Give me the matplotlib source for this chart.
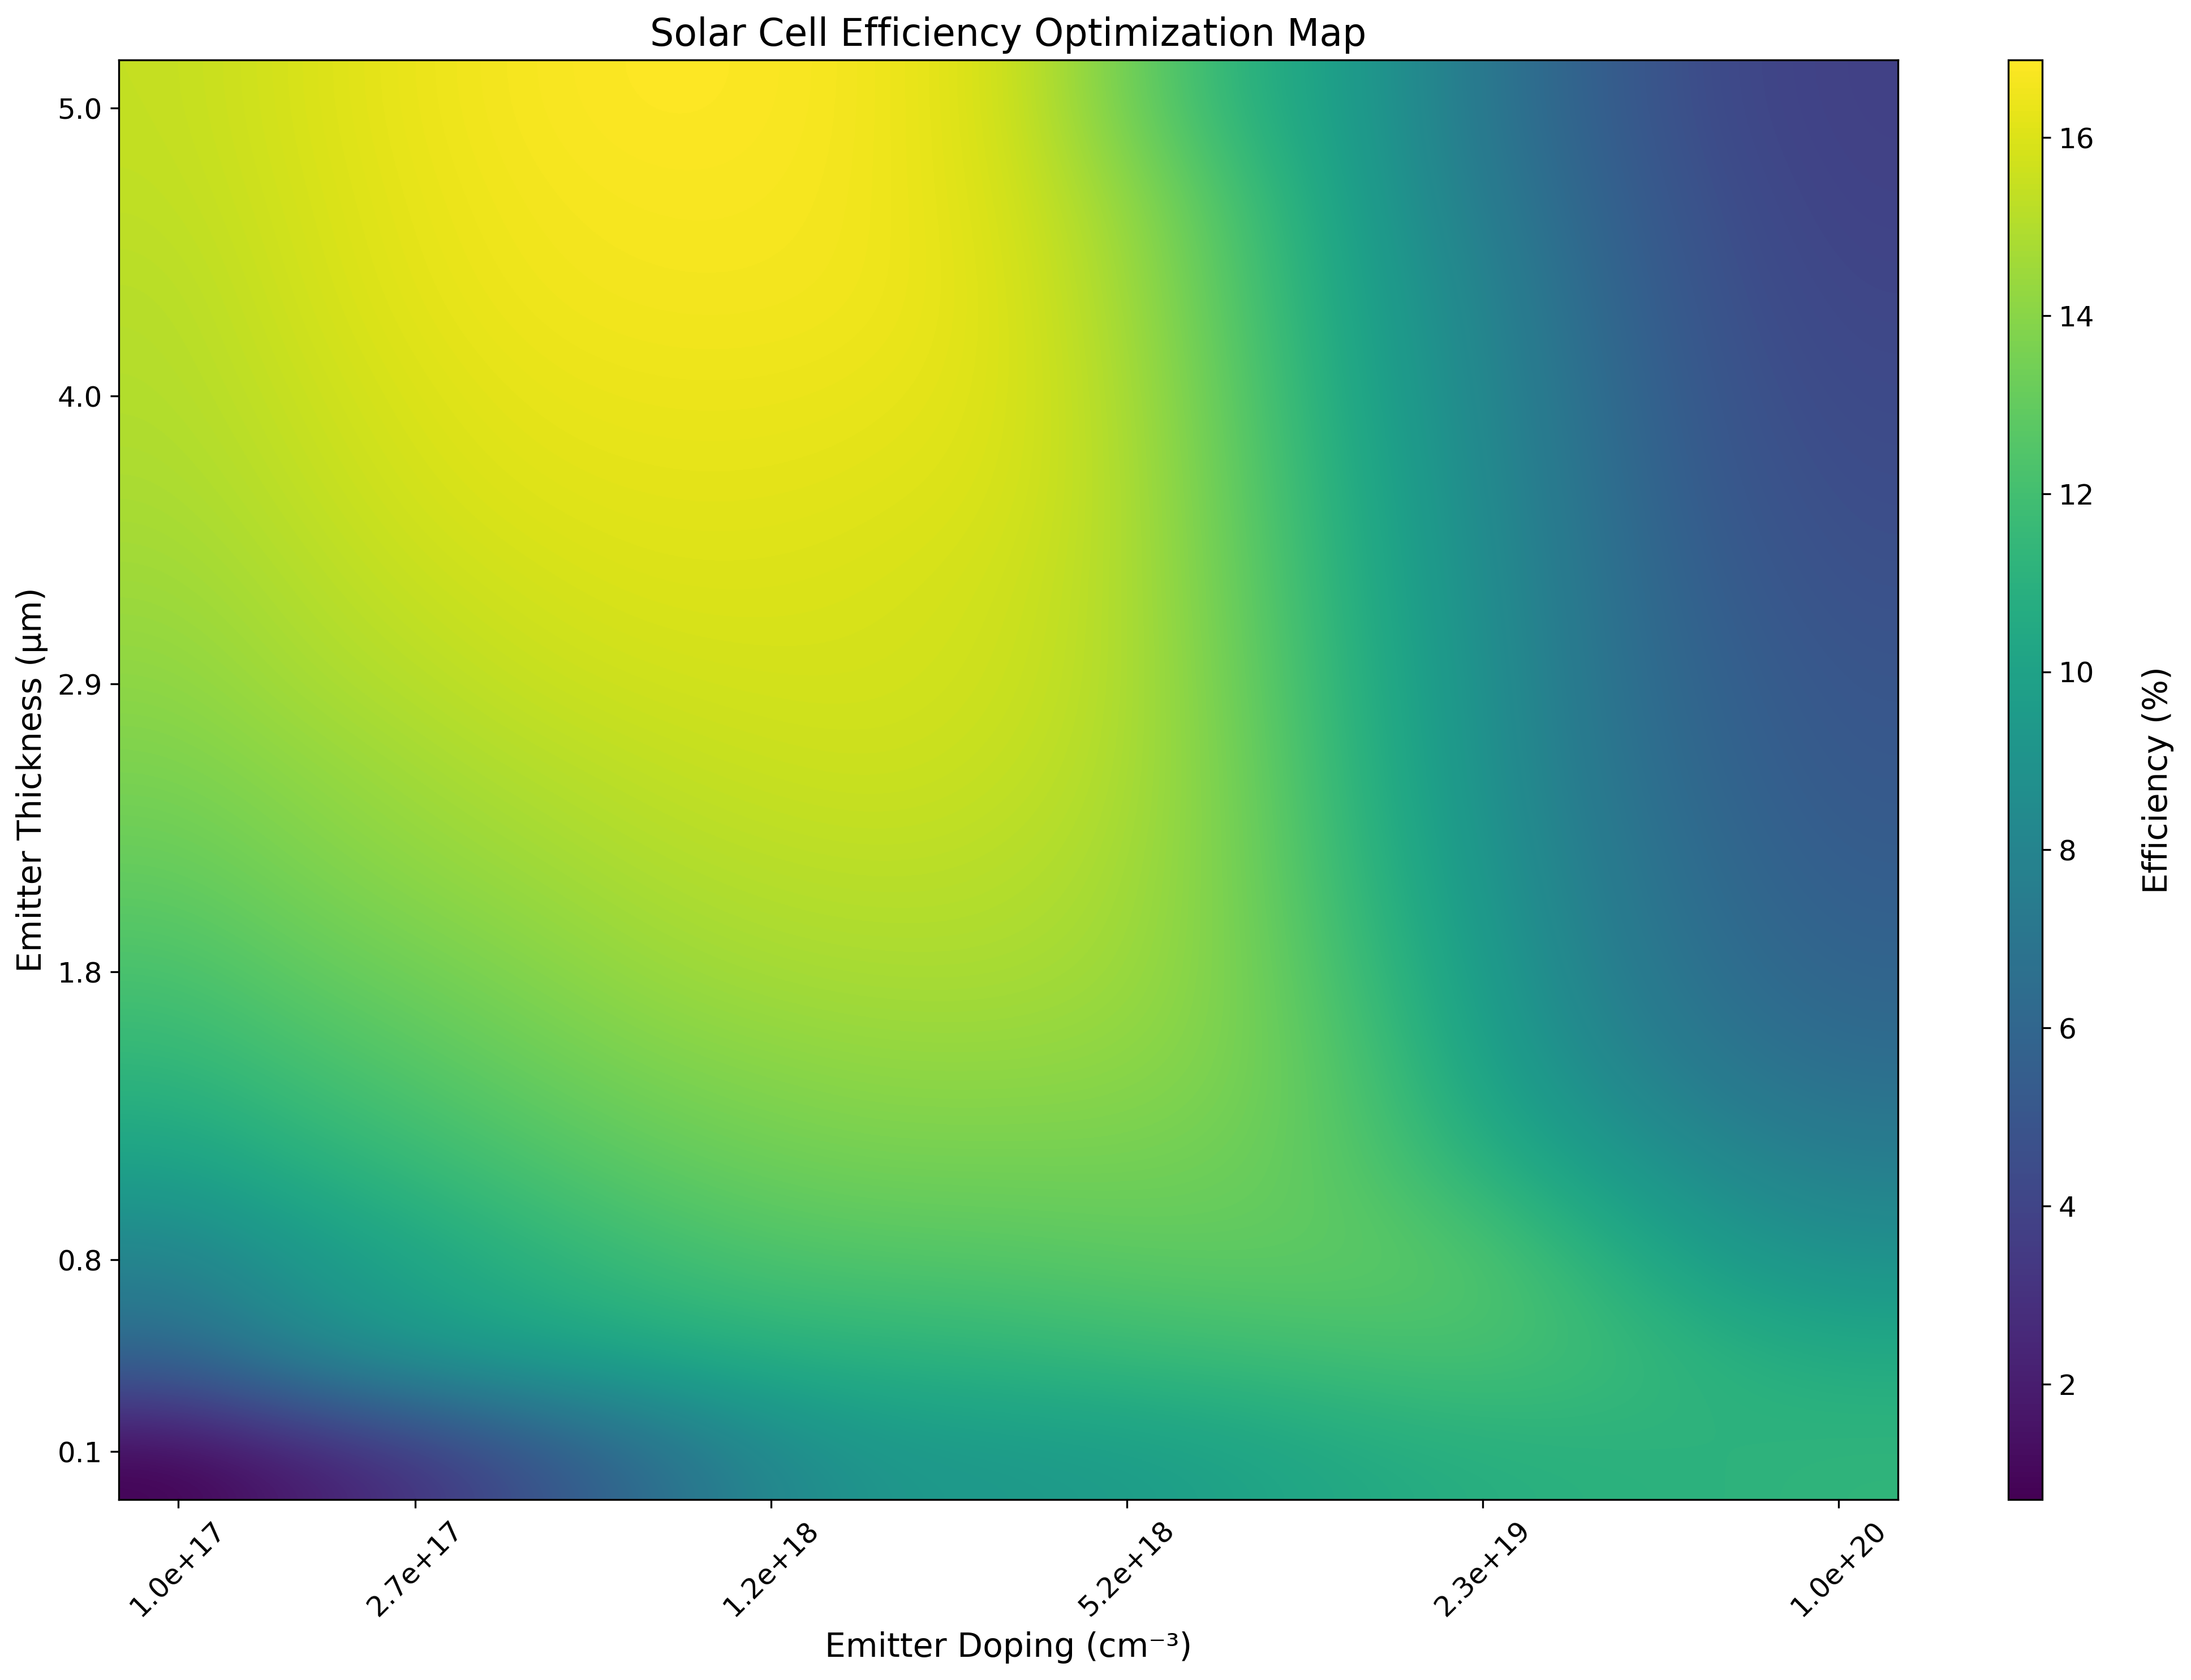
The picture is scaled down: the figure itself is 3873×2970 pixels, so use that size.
import numpy as np
import matplotlib
matplotlib.use('Agg')
import matplotlib.pyplot as plt

doping = ['1.0e+17', '2.7e+17', '1.2e+18', '5.2e+18', '2.3e+19', '1.0e+20']
thick = ['0.1', '0.8', '1.8', '2.9', '4.0', '5.0']
tick_idx = [0, 2, 5, 8, 11, 14]

# rows bottom to top
row00 = [0.7, 1.8, 3.0, 4.7, 6.4, 8.2, 9.2, 9.4, 9.6, 10.0, 10.5, 10.8, 11.0, 11.1, 11.3]
row01 = [6.2, 8.2, 9.4, 10.0, 10.5, 10.9, 11.1, 11.3, 11.6, 11.8, 12.0, 12.2, 11.8, 11.1, 10.6]
row02 = [7.9, 9.2, 10.2, 11.1, 11.8, 12.3, 12.5, 12.6, 12.8, 12.9, 12.9, 12.5, 11.1, 9.6, 8.9]
row03 = [10.0, 10.9, 11.6, 12.3, 12.9, 13.3, 13.5, 13.5, 13.5, 13.3, 12.5, 11.0, 9.5, 8.3, 7.6]
row04 = [11.3, 12.0, 12.6, 13.2, 13.7, 14.0, 14.2, 14.2, 14.1, 13.6, 12.2, 10.0, 8.3, 7.1, 6.5]
row05 = [12.2, 12.9, 13.4, 13.9, 14.4, 14.7, 14.8, 14.8, 14.5, 13.6, 11.7, 9.6, 7.7, 6.5, 5.9]
row06 = [13.0, 13.6, 14.1, 14.5, 14.9, 15.1, 15.2, 15.1, 14.7, 13.5, 11.3, 9.2, 7.4, 6.2, 5.5]
row07 = [13.6, 14.1, 14.6, 15.0, 15.3, 15.5, 15.6, 15.4, 14.9, 13.4, 11.0, 8.9, 7.1, 5.9, 5.2]
row08 = [14.1, 14.7, 15.1, 15.5, 15.7, 15.8, 15.8, 15.6, 15.0, 13.2, 10.8, 8.8, 6.9, 5.7, 5.0]
row09 = [14.5, 15.0, 15.5, 15.8, 16.0, 16.0, 15.9, 15.7, 15.0, 13.0, 10.6, 8.6, 6.8, 5.4, 4.7]
row10 = [14.8, 15.3, 15.8, 16.1, 16.2, 16.2, 16.1, 15.9, 15.0, 12.8, 10.4, 8.4, 6.6, 5.1, 4.5]
row11 = [15.0, 15.5, 16.0, 16.3, 16.4, 16.4, 16.3, 16.0, 14.9, 12.6, 10.1, 8.2, 6.4, 4.9, 4.3]
row12 = [15.1, 15.7, 16.2, 16.5, 16.6, 16.6, 16.5, 16.0, 14.7, 12.3, 9.9, 8.0, 6.1, 4.7, 4.1]
row13 = [15.3, 15.8, 16.3, 16.6, 16.7, 16.7, 16.5, 15.9, 14.4, 12.0, 9.6, 7.5, 5.8, 4.5, 3.9]
row14 = [15.4, 15.9, 16.4, 16.7, 16.87, 16.8, 16.5, 15.8, 13.4, 11.0, 9.4, 7.1, 5.5, 4.2, 3.8]

grid = np.array([row00, row01, row02, row03, row04, row05, row06, row07,
                 row08, row09, row10, row11, row12, row13, row14])

fig = plt.figure(figsize=(12.9133, 9.9), dpi=300)
ax = fig.add_axes([85 / 1568, 1 - 1073 / 1202, (1358 - 85) / 1568, (1073 - 43) / 1202])
cax = fig.add_axes([1437 / 1568, 1 - 1073 / 1202, 24 / 1568, (1073 - 43) / 1202])

im = ax.imshow(grid, cmap='viridis', origin='lower', aspect='auto', interpolation='bicubic')
ax.set_xticks(tick_idx)
ax.set_xticklabels(doping, rotation=45, fontsize=12)
ax.set_yticks(tick_idx)
ax.set_yticklabels(thick, fontsize=12)
ax.set_xlabel('Emitter Doping (cm⁻³)', fontsize=14)
ax.set_ylabel('Emitter Thickness (µm)', fontsize=14)
ax.set_title('Solar Cell Efficiency Optimization Map', fontsize=16)

cb = fig.colorbar(im, cax=cax)
cb.ax.tick_params(labelsize=12)
cb.set_label('Efficiency (%)', fontsize=14, labelpad=20)

fig.savefig('out.png', dpi=300)
